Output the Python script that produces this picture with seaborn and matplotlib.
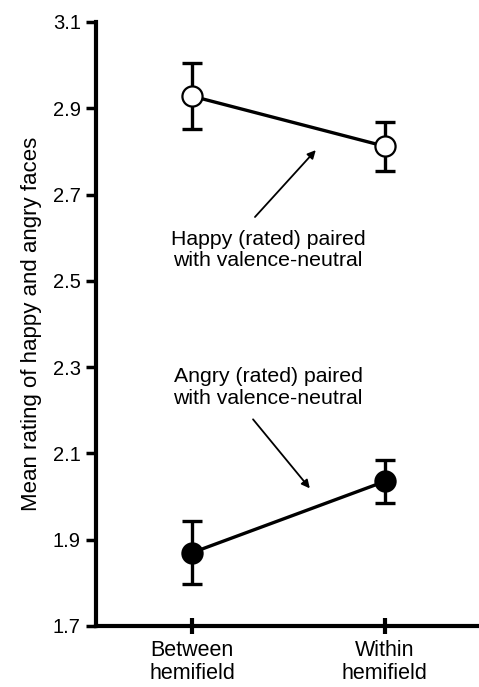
import matplotlib
matplotlib.use('Agg')
import matplotlib.pyplot as plt
import seaborn as sns
import pandas as pd

conditions = ['Between\nhemifield', 'Within\nhemifield']
happy_mean = [2.928, 2.812]
happy_err = [0.077, 0.057]
angry_mean = [1.870, 2.035]
angry_err = [0.073, 0.049]
y_ticks = [1.7, 1.9, 2.1, 2.3, 2.5, 2.7, 2.9, 3.1]

df = pd.DataFrame({
    'pos': [0, 1, 0, 1],
    'rating': happy_mean + angry_mean,
    'err': happy_err + angry_err,
    'group': ['happy', 'happy', 'angry', 'angry'],
})

sns.set_style('ticks')
plt.rcParams['font.family'] = ['Liberation Sans', 'DejaVu Sans']
plt.rcParams['text.color'] = 'black'

fig = plt.figure(figsize=(4.79, 6.87), dpi=100)
ax = fig.add_axes([0.2004, 0.0888, 0.7996, 0.8792])

for grp, face in [('happy', 'white'), ('angry', 'black')]:
    sub = df[df['group'] == grp]
    ax.errorbar(sub['pos'], sub['rating'], yerr=sub['err'], fmt='none',
                ecolor='black', elinewidth=2.4, capsize=7.5, capthick=2.4, zorder=2)
    sns.lineplot(data=sub, x='pos', y='rating', ax=ax, color='black',
                 linewidth=2.4, marker='o', markersize=14.5,
                 markerfacecolor=face, markeredgecolor='black',
                 markeredgewidth=1.6, zorder=3)

ax.annotate('', xy=(0.642, 2.803), xytext=(0.326, 2.648),
            arrowprops=dict(arrowstyle='-|>', color='black', lw=1.3,
                            mutation_scale=12, shrinkA=0, shrinkB=0))
ax.text(0.394, 2.571, 'Happy (rated) paired\nwith valence-neutral',
        ha='center', va='center', fontsize=15.3, linespacing=1.15, color='black')

ax.annotate('', xy=(0.611, 2.019), xytext=(0.316, 2.179),
            arrowprops=dict(arrowstyle='-|>', color='black', lw=1.3,
                            mutation_scale=12, shrinkA=0, shrinkB=0))
ax.text(0.394, 2.253, 'Angry (rated) paired\nwith valence-neutral',
        ha='center', va='center', fontsize=15.3, linespacing=1.15, color='black')

ax.set_xlim(-0.5, 1.49)
ax.set_ylim(1.7, 3.1)
ax.set_xticks([0, 1])
ax.set_xticklabels(conditions, fontsize=15.5, linespacing=1.15)
ax.set_yticks(y_ticks)
ax.set_yticklabels([f'{t:.1f}' for t in y_ticks], fontsize=14.5)
ax.set_xlabel('')
ax.set_ylabel('Mean rating of happy and angry faces', fontsize=16, labelpad=8, color='black')

sns.despine(ax=ax)
for side in ['left', 'bottom']:
    ax.spines[side].set_linewidth(3)
    ax.spines[side].set_color('black')
ax.tick_params(axis='y', direction='out', length=7, width=2.5, pad=4,
               colors='black', labelcolor='black')
ax.tick_params(axis='x', direction='inout', length=12, width=3, pad=4,
               colors='black', labelcolor='black')

plt.savefig('out.png', dpi=100)
